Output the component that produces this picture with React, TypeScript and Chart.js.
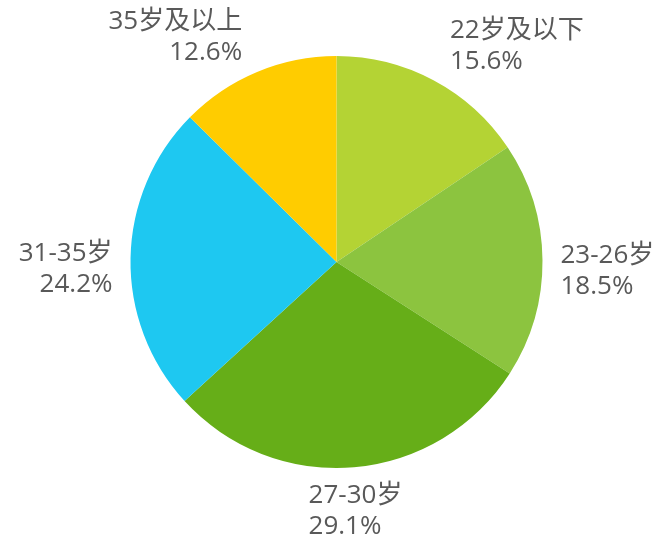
import React, { useEffect, useRef } from "react";
import { Chart, registerables } from "chart.js";

Chart.register(...registerables);

const categories = ["22岁及以下", "23-26岁", "27-30岁", "31-35岁", "35岁及以上"];
const shares = [15.6, 18.5, 29.1, 24.2, 12.6];
const colors = ["#b4d334", "#8cc43f", "#66ae18", "#1ec8f1", "#ffcc00"];

const FONT_SIZE = 26;
const LINE_H = 30.5;
const CAP_H = 19;
const LABEL_COLOR = "#595959";
const FONT = `${FONT_SIZE}px 'Open Sans', 'Noto Sans CJK SC', sans-serif`;

const outsideLabels = {
  id: "outsideLabels",
  afterDatasetsDraw(chart: any) {
    const ctx = chart.ctx as CanvasRenderingContext2D;
    const meta = chart.getDatasetMeta(0);
    ctx.save();
    ctx.font = FONT;
    ctx.fillStyle = LABEL_COLOR;
    ctx.textBaseline = "alphabetic";
    meta.data.forEach((arc: any, i: number) => {
      const { x, y, startAngle, endAngle, outerRadius } = arc.getProps(
        ["x", "y", "startAngle", "endAngle", "outerRadius"],
        true
      );
      const mid = (startAngle + endAngle) / 2;
      const vx = Math.cos(mid);
      const vy = Math.sin(mid);
      const R = outerRadius + 18;
      let px = x + R * vx;
      let py = y + R * vy;
      const lines = [categories[i], shares[i].toFixed(1) + "%"];
      const w = Math.max(...lines.map((l) => ctx.measureText(l).width));
      const h = CAP_H + (lines.length - 1) * LINE_H;
      let top: number;
      if (vy > 0.15) {
        top = py - 1;
      } else if (vy < -0.15) {
        top = py + 4.5 - h;
        px += vx > 0 ? 8 : -8;
      } else {
        top = py + 9 - h / 2;
      }
      let left: number;
      let align: "left" | "right" = "left";
      if (vx > 0.15) left = px;
      else if (vx < -0.15) {
        left = px - w;
        align = "right";
      } else left = px - w / 2;
      lines.forEach((l, k) => {
        const by = top + CAP_H + k * LINE_H;
        if (align === "right") {
          ctx.textAlign = "right";
          ctx.fillText(l, left + w, by);
        } else {
          ctx.textAlign = "left";
          ctx.fillText(l, left, by);
        }
      });
    });
    ctx.restore();
  },
};

export default function App() {
  const ref = useRef<HTMLCanvasElement>(null);
  useEffect(() => {
    if (!ref.current) return;
    const chart = new Chart(ref.current, {
      type: "pie",
      data: {
        labels: categories,
        datasets: [
          {
            data: shares,
            backgroundColor: colors,
            borderWidth: 0,
          },
        ],
      },
      options: {
        responsive: false,
        animation: false,
        layout: { padding: { top: 56, bottom: 69, left: 130, right: 121 } },
        plugins: {
          legend: { display: false },
          tooltip: { enabled: false },
        },
      },
      plugins: [outsideLabels],
    });
    return () => chart.destroy();
  }, []);
  return (
    <div style={{ position: "absolute", left: 0, top: 0, width: 664, height: 537, background: "#fff" }}>
      <canvas ref={ref} width={664} height={537} />
    </div>
  );
}
